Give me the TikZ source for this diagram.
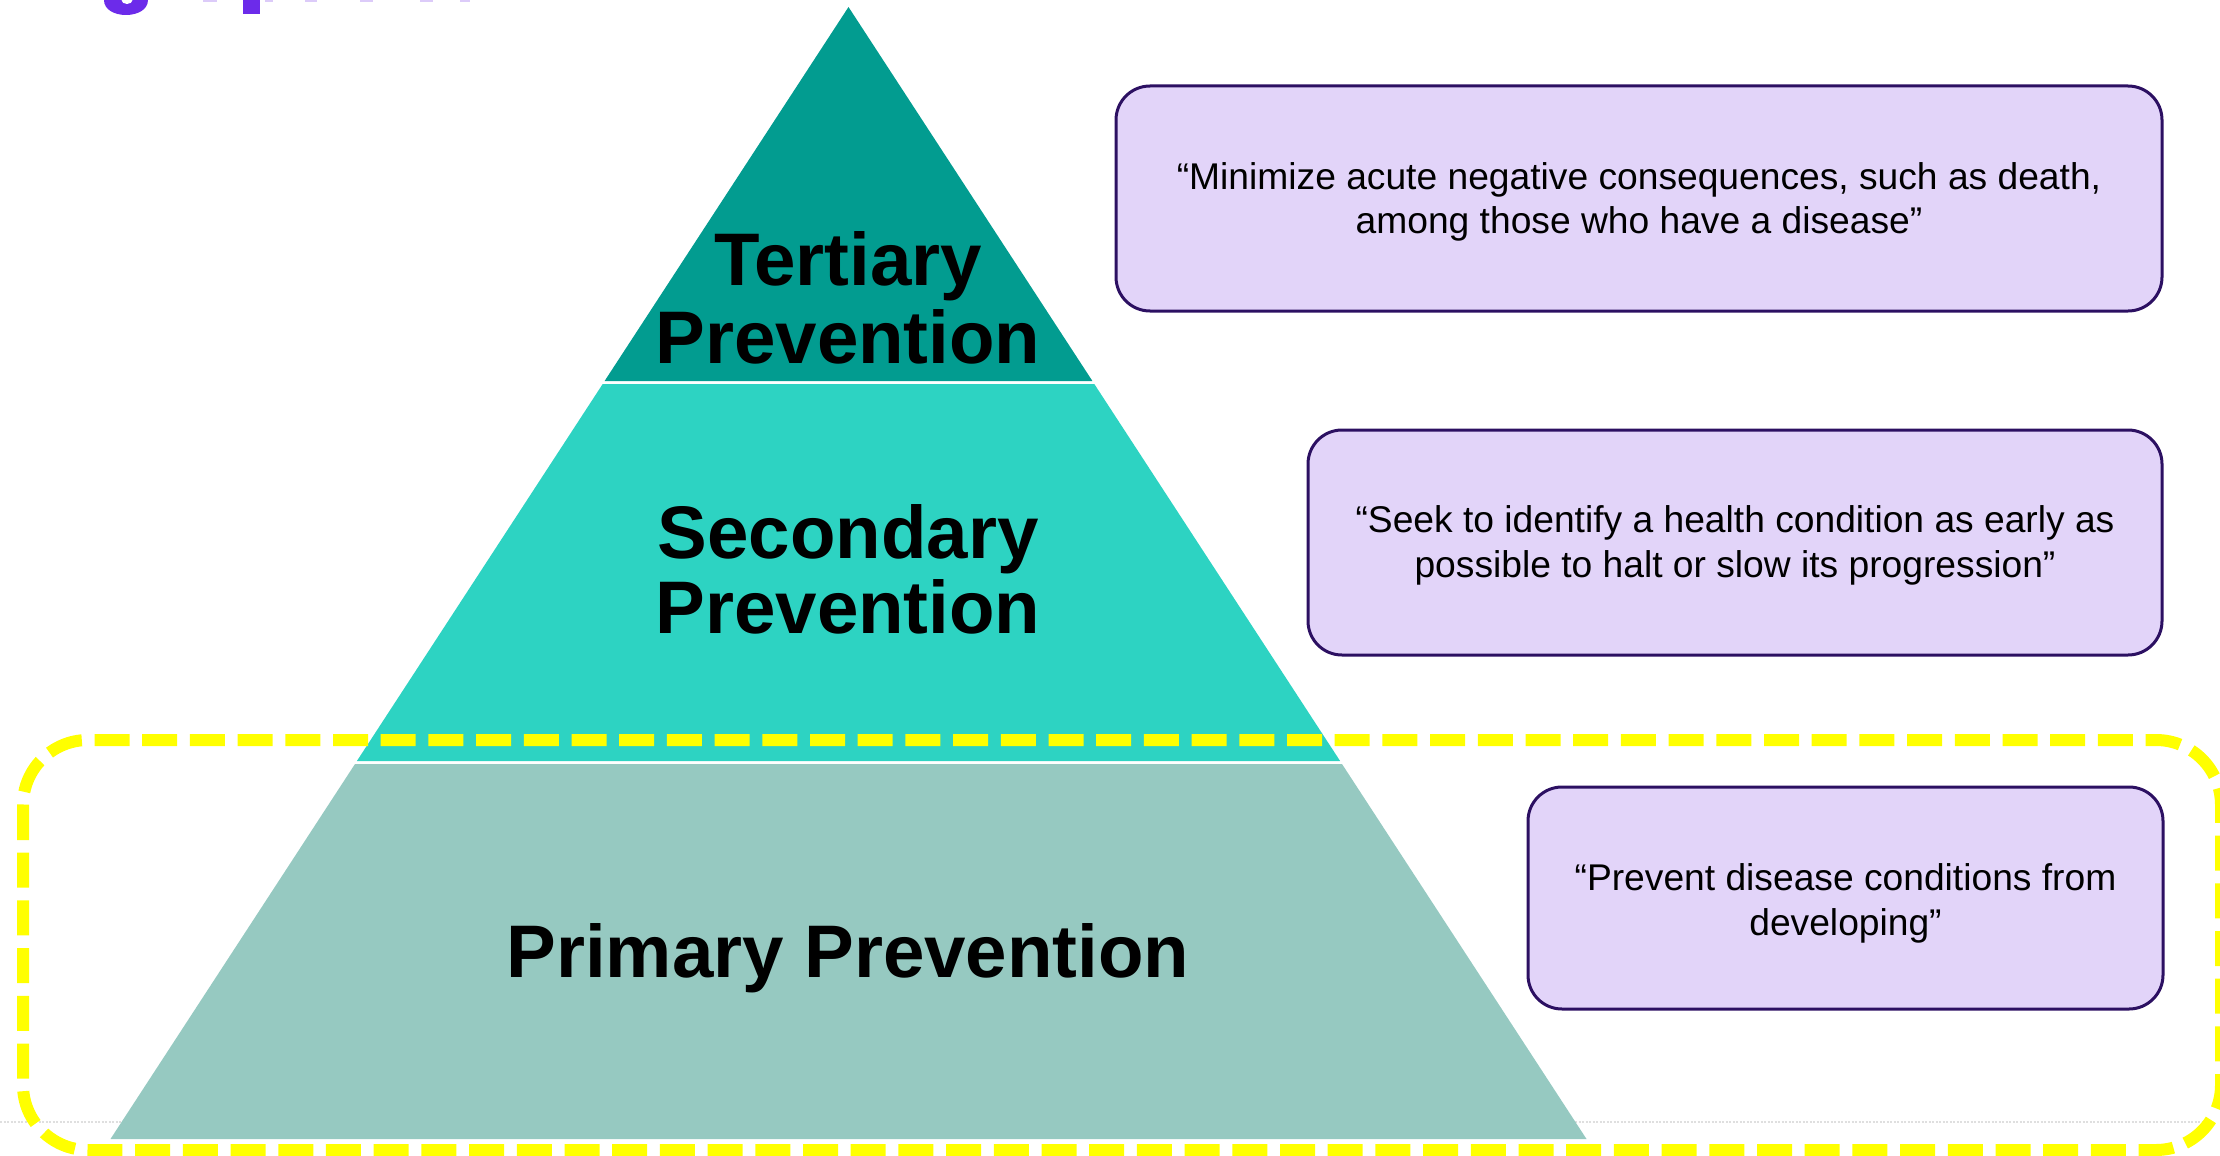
\documentclass[tikz,border=0pt]{standalone}
\usepackage{fontspec}
\setmainfont{Liberation Sans}
\definecolor{tertc}{HTML}{029C90}
\definecolor{secc}{HTML}{2DD3C2}
\definecolor{primc}{HTML}{96C9C1}
\definecolor{boxfill}{HTML}{E2D4F9}
\definecolor{boxline}{HTML}{2C1062}
\definecolor{titlec}{HTML}{6C2BEA}
\definecolor{titlefaint}{HTML}{DCCBF9}
\definecolor{ydash}{HTML}{FFFF00}
\begin{document}
\begin{tikzpicture}[x=1pt,y=-1pt,
  lvl/.style={font=\fontsize{74.5}{76}\selectfont\bfseries, inner sep=0pt, anchor=base},
  quote/.style={font=\fontsize{37.2}{44}\selectfont, inner sep=0pt, anchor=base},
  qbox/.style={draw=boxline, line width=3pt, fill=boxfill, rounded corners=34pt, inner sep=0pt},
  band/.style={draw=none},
  focus/.style={draw=ydash, line width=12pt, dash pattern=on 35pt off 12.7pt, rounded corners=65pt},
]
\useasboundingbox (0,0) rectangle (2220,1156);
% faint footer line
\draw[gray!25, line width=1.5pt, dash pattern=on 2pt off 1.5pt] (0,1122) -- (2212,1122);
% title remnants (descenders of cut-off heading)
\fill[titlec] (104,0) .. controls (104,20) and (148,20) .. (148,0) -- cycle;
\fill[white] (127,0) ellipse [x radius=5.5pt, y radius=4pt];
\fill[titlec] (243,0) rectangle (260,14);
\foreach \a/\b in {203/217,265/273,305/317,360/373,420/433,460/470}
  \fill[titlefaint] (\a,0) rectangle (\b,2);
% pyramid
\fill[band, fill=tertc] (848.5,7) -- (1092.4,381) -- (604.6,381) -- cycle;
\fill[band, fill=secc] (602.7,384) -- (1094.3,384) -- (1340.1,761) -- (356.9,761) -- cycle;
\fill[band, fill=primc] (355.0,764) -- (1342.0,764) -- (1586.5,1139) -- (110.5,1139) -- cycle;
\node[lvl] (t1) at (848,285) {Tertiary};
\node[lvl] (t2) at (848,363) {Prevention};
\node[lvl] (s1) at (848,558) {Secondary};
\node[lvl] (s2) at (848,633) {Prevention};
\node[lvl] (p1) at (848,977) {Primary Prevention};
% quote boxes
\node[qbox, minimum width=1046pt, minimum height=225pt] (b1) at (1639,198.5) {};
\node[quote] (b1a) at (1639,189) {“Minimize acute negative consequences, such as death,};
\node[quote] (b1b) at (1639,233) {among those who have a disease”};
\node[qbox, minimum width=854pt, minimum height=225pt] (b2) at (1735,542.5) {};
\node[quote] (b2a) at (1735,532) {“Seek to identify a health condition as early as};
\node[quote] (b2b) at (1735,577) {possible to halt or slow its progression”};
\node[qbox, minimum width=635pt, minimum height=222pt] (b3) at (1845.5,898) {};
\node[quote] (b3a) at (1845.5,890) {“Prevent disease conditions from};
\node[quote] (b3b) at (1845.5,935) {developing”};
% yellow dashed highlight
\draw[focus] (23,740) rectangle (2221,1150);
\end{tikzpicture}
\end{document}
